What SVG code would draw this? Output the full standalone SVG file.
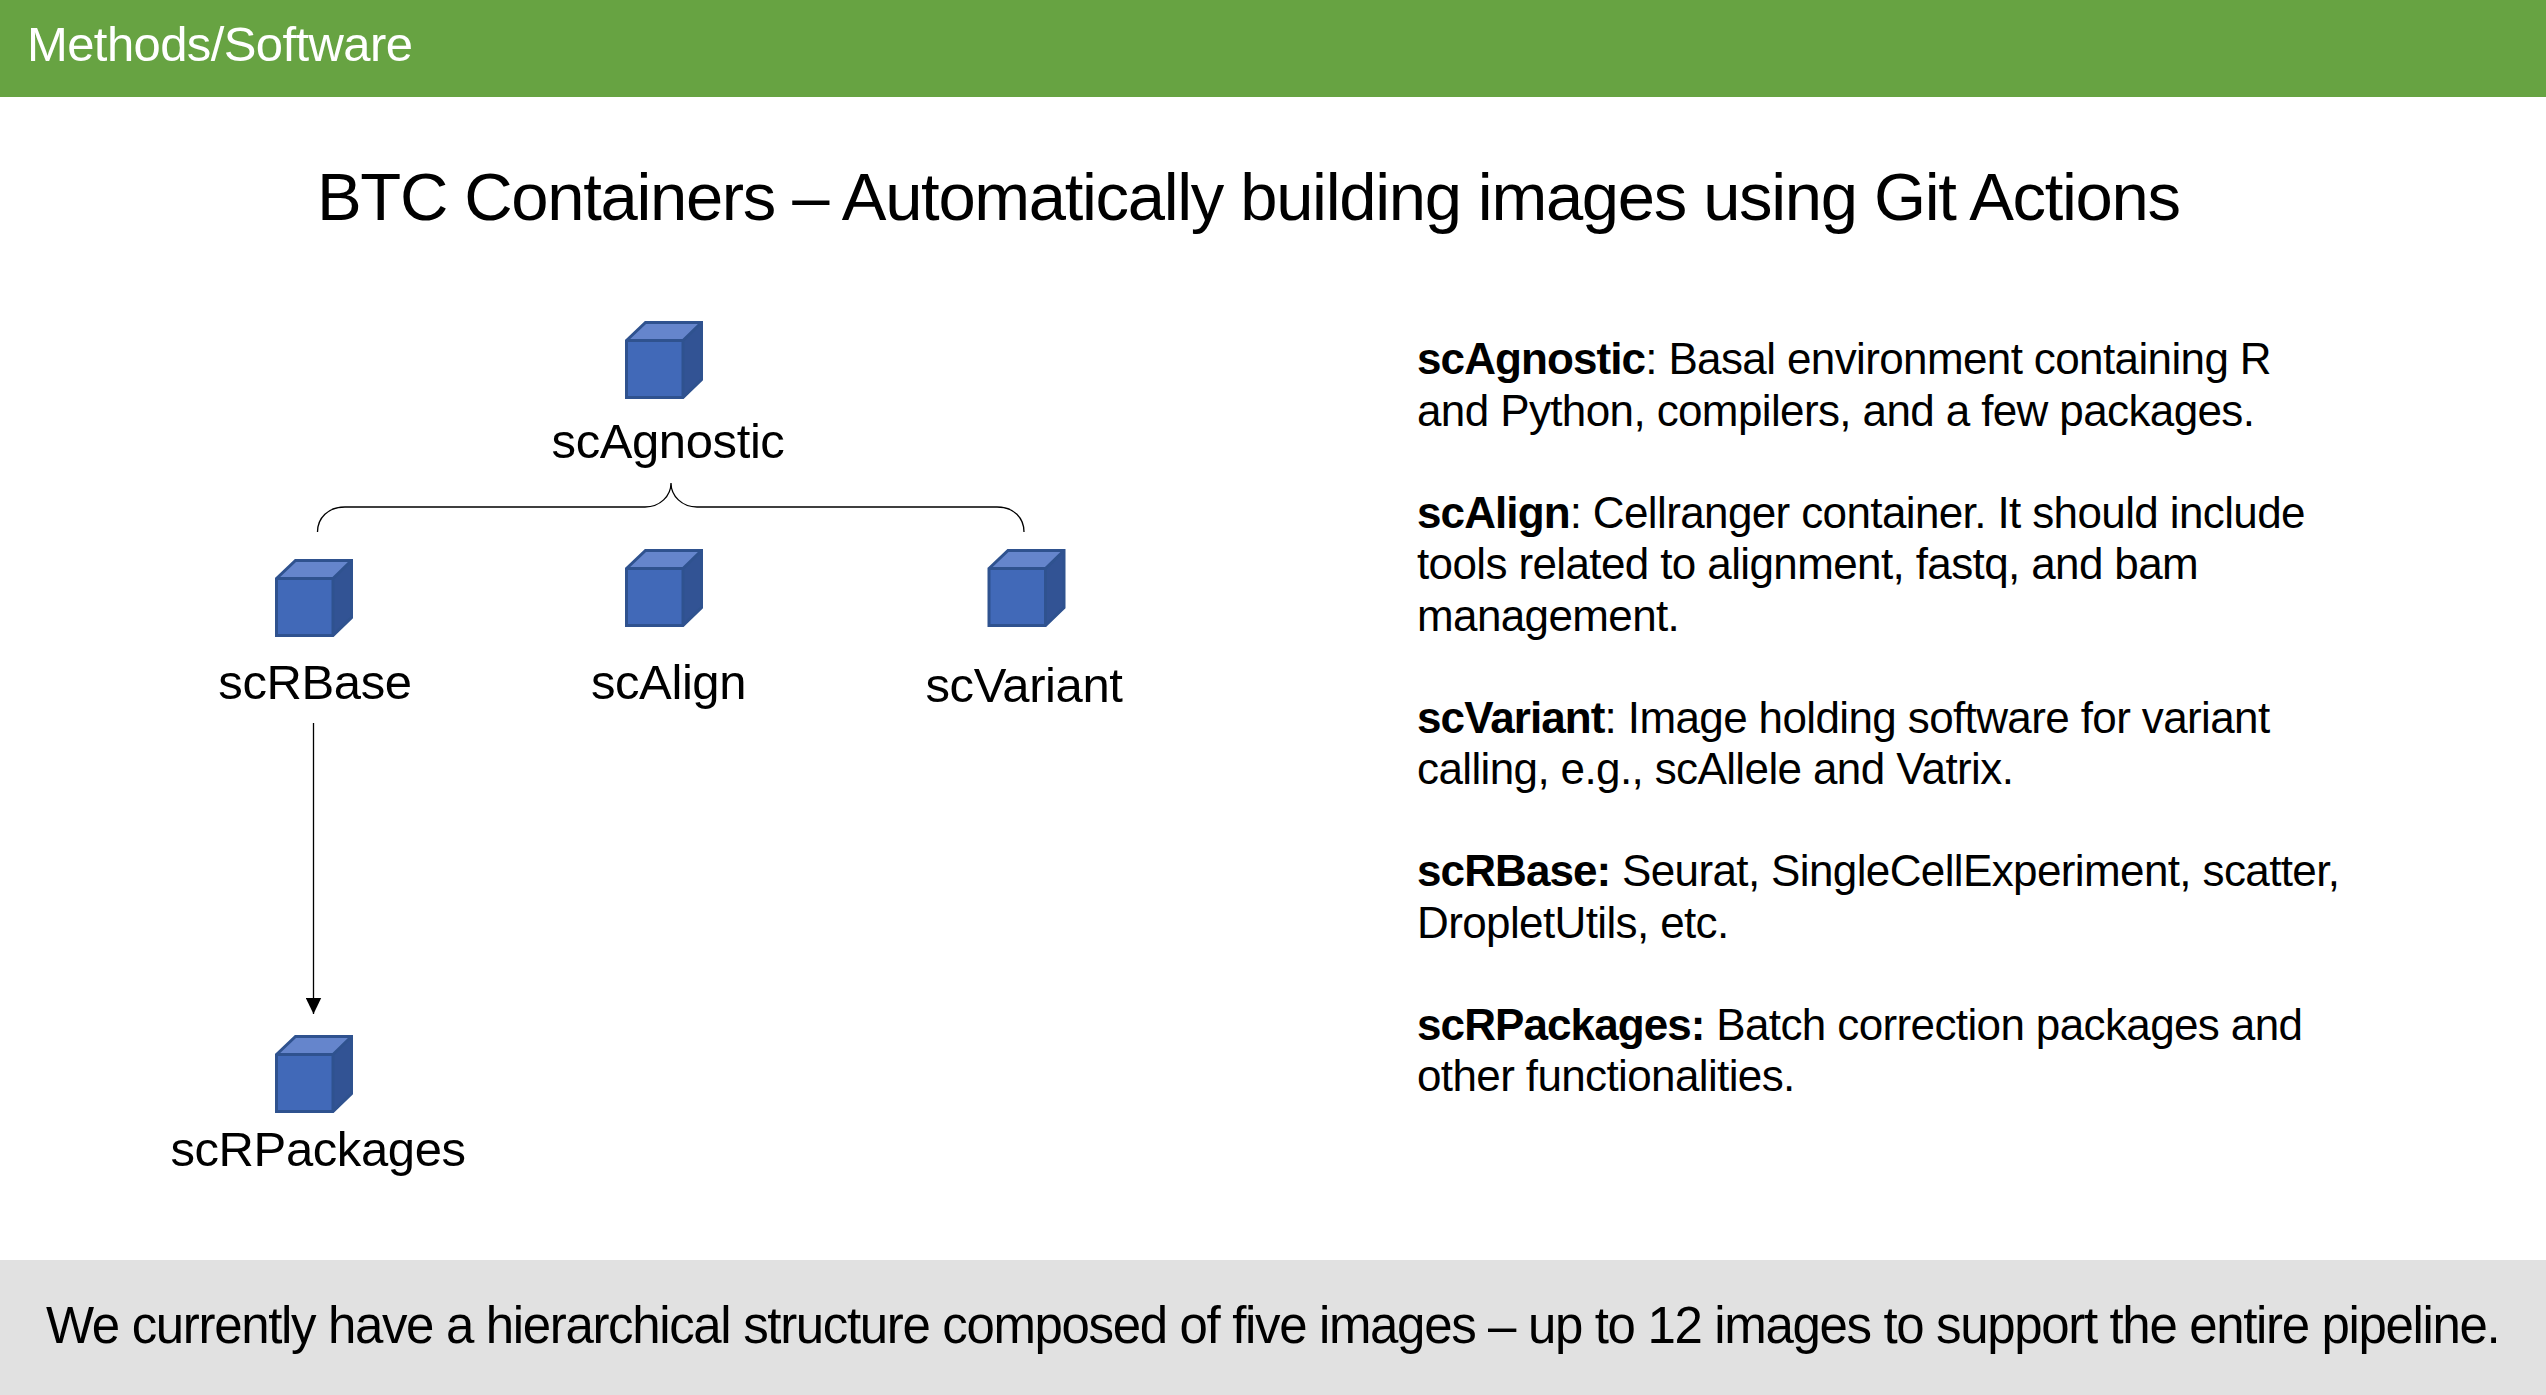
<svg xmlns="http://www.w3.org/2000/svg" width="2546" height="1395" viewBox="0 0 2546 1395">
<defs>
<marker id="arr" markerUnits="userSpaceOnUse" markerWidth="16" markerHeight="16" refX="16" refY="8" orient="auto"><path d="M0,0.3 L16,8 L0,15.7 Z" fill="#000"/></marker>
<g id="cube">
<path d="M1.5,19.5 L20.5,1.5 L76.5,1.5 L57.5,19.5 Z" fill="#6585cc"/>
<path d="M58,19.5 L76.5,1.5 L76.5,58.5 L58,76.5 Z" fill="#325394"/>
<rect x="1.5" y="19.5" width="57" height="57" fill="#4169b8"/>
<path d="M1.5,19.5 L20.5,1.5 L76.5,1.5 L76.5,58.5 L58,76.5 L1.5,76.5 Z M1.5,19.5 L58,19.5 L76.5,1.5 M58,19.5 L58,76.5" fill="none" stroke="#2f528f" stroke-width="3"/>
</g>
</defs>
<style>
text{font-family:"Liberation Sans",Arial,sans-serif;fill:#000}
.lbl{font-size:49px;letter-spacing:-0.4px;text-anchor:middle}
.body{font-size:44px;letter-spacing:-0.62px}
.b{font-weight:700;letter-spacing:-0.9px}
.conn{fill:none;stroke:#000;stroke-width:1.3}
</style>
<rect width="2546" height="1395" fill="#fff"/>
<rect width="2546" height="97" fill="#67a342"/>
<text x="27" y="61" font-size="49" letter-spacing="-0.6" style="fill:#fff">Methods/Software</text>
<text x="317" y="220" font-size="67" letter-spacing="-1.33">BTC Containers – Automatically building images using Git Actions</text>
<g id="connectors">
<path class="conn" d="M317.5,532 C317.5,518 328,507 345,507 L645,507 C660,507 671,496 671,483 C671,496 682,507 697,507 L997,507 C1014,507 1024,518 1024,532"/>
<line class="conn" x1="313.5" y1="723" x2="313.5" y2="1014" marker-end="url(#arr)"/>
</g>
<g id="scAgnostic"><use href="#cube" x="625" y="321"/><text class="lbl" x="668" y="458">scAgnostic</text></g>
<g id="scRBase"><use href="#cube" x="275" y="559"/><text class="lbl" x="315" y="699">scRBase</text></g>
<g id="scAlign"><use href="#cube" x="625" y="549"/><text class="lbl" x="668.5" y="699">scAlign</text></g>
<g id="scVariant"><use href="#cube" x="987.5" y="549"/><text class="lbl" x="1024" y="702">scVariant</text></g>
<g id="scRPackages"><use href="#cube" x="275" y="1035"/><text class="lbl" x="318" y="1166">scRPackages</text></g>
<g id="notes">
<text class="body" x="1417" y="374"><tspan class="b">scAgnostic</tspan>: Basal environment containing R</text>
<text class="body" x="1417" y="426">and Python, compilers, and a few packages.</text>
<text class="body" x="1417" y="528"><tspan class="b">scAlign</tspan>: Cellranger container. It should include</text>
<text class="body" x="1417" y="579">tools related to alignment, fastq, and bam</text>
<text class="body" x="1417" y="631">management.</text>
<text class="body" x="1417" y="733"><tspan class="b">scVariant</tspan>: Image holding software for variant</text>
<text class="body" x="1417" y="784">calling, e.g., scAllele and Vatrix.</text>
<text class="body" x="1417" y="886"><tspan class="b">scRBase:</tspan> Seurat, SingleCellExperiment, scatter,</text>
<text class="body" x="1417" y="938">DropletUtils, etc.</text>
<text class="body" x="1417" y="1040"><tspan class="b">scRPackages:</tspan> Batch correction packages and</text>
<text class="body" x="1417" y="1091">other functionalities.</text>
</g>
<rect y="1260" width="2546" height="135" fill="#e1e1e1"/>
<text x="46" y="1343" font-size="51" letter-spacing="-1.35">We currently have a hierarchical structure composed of five images – up to 12 images to support the entire pipeline.</text>
</svg>
